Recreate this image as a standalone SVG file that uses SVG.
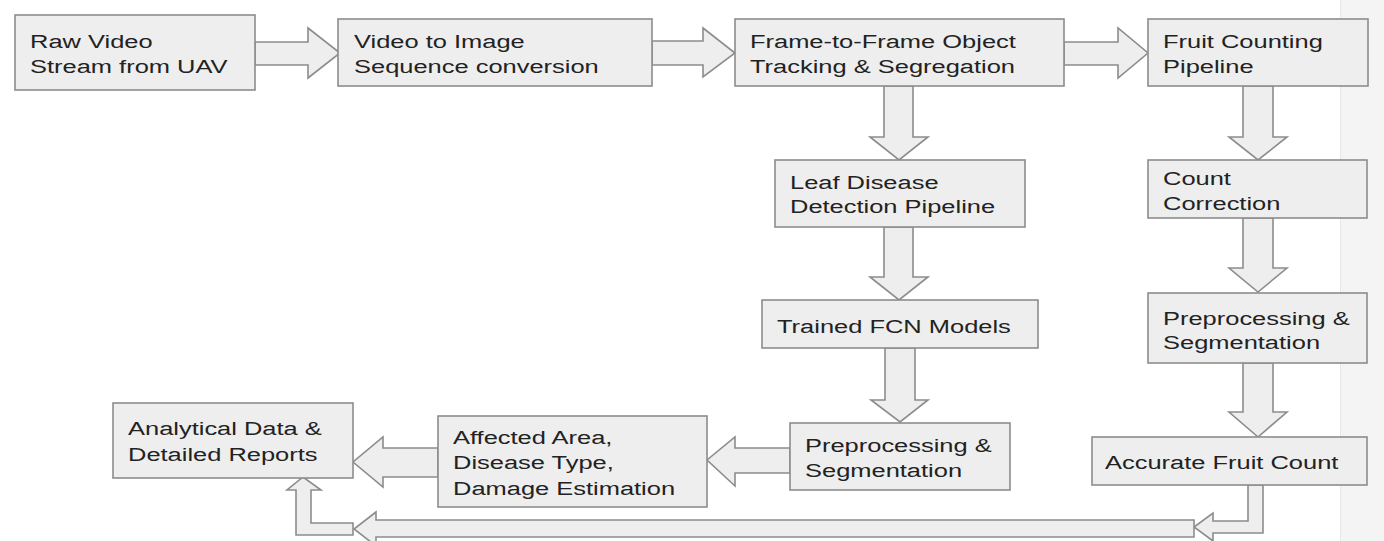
<svg xmlns="http://www.w3.org/2000/svg" width="1384" height="541" viewBox="0 0 1384 541">
<style>
.box{fill:#eeeeee;stroke:#8c8c8c;stroke-width:1.6}
.arr{fill:#eeeeee;stroke:#8c8c8c;stroke-width:1.6;stroke-linejoin:miter}
.t{font-family:"Liberation Sans",Arial,sans-serif;font-size:19px;fill:#222222}
</style>
<rect x="0" y="0" width="1384" height="541" fill="#ffffff"/>
<rect x="1340" y="0" width="44" height="541" fill="#f4f4f4"/>
<line x1="1340.5" y1="0" x2="1340.5" y2="541" stroke="#e6e6e6" stroke-width="1"/>
<g id="connectors">
<polygon class="arr" points="255,42 308,42 308,28 340,53 308,78 308,65 255,65"/>
<polygon class="arr" points="652,41 703,41 703,28 735,53 703,77 703,65 652,65"/>
<polygon class="arr" points="1064,42 1118,42 1118,28 1148,53 1118,78 1118,65 1064,65"/>
<polygon class="arr" points="884,86 913,86 913,137 928,137 899,160 870,137 884,137"/>
<polygon class="arr" points="884,227 913,227 913,277 928,277 899,300 870,277 884,277"/>
<polygon class="arr" points="885,348 915,348 915,400 928,400 900,422 871,400 885,400"/>
<polygon class="arr" points="1243,86 1273,86 1273,137 1287,137 1258,160 1229,137 1243,137"/>
<polygon class="arr" points="1243,218 1273,218 1273,268 1287,268 1258,292 1229,268 1243,268"/>
<polygon class="arr" points="1243,363 1273,363 1273,412 1287,412 1258,437 1229,412 1243,412"/>
<polygon class="arr" points="790,448 735,448 735,437 707,460 735,486 735,473 790,473"/>
<polygon class="arr" points="438,448 383,448 383,437 353,462 383,487 383,477 438,477"/>
<polygon class="arr" points="1248,485 1263,485 1263,533 1213,533 1213,541 1194,527 1213,513 1213,521 1248,521"/>
<polygon class="arr" points="1194,520 376,520 376,512 354,529 376,546 376,537 1194,537"/>
<polygon class="arr" points="353,523 311,523 311,490 321,490 303,477 287,490 296,490 296,535 353,535"/>
</g>
<g id="n1"><rect class="box" x="15" y="15" width="240" height="75"/>
<text class="t" transform="translate(30,48) scale(1.34,1)"><tspan x="0" y="0">Raw Video</tspan><tspan x="0" y="25">Stream from UAV</tspan></text></g>
<g id="n2"><rect class="box" x="338" y="19" width="314" height="67"/>
<text class="t" transform="translate(354,48) scale(1.34,1)"><tspan x="0" y="0">Video to Image</tspan><tspan x="0" y="25">Sequence conversion</tspan></text></g>
<g id="n3"><rect class="box" x="735" y="19" width="329" height="67"/>
<text class="t" transform="translate(750,48) scale(1.34,1)"><tspan x="0" y="0">Frame-to-Frame Object</tspan><tspan x="0" y="25">Tracking &amp; Segregation</tspan></text></g>
<g id="n4"><rect class="box" x="1148" y="19" width="220" height="67"/>
<text class="t" transform="translate(1163,48) scale(1.34,1)"><tspan x="0" y="0">Fruit Counting</tspan><tspan x="0" y="25">Pipeline</tspan></text></g>
<g id="n5"><rect class="box" x="775" y="160" width="250" height="67"/>
<text class="t" transform="translate(790,189) scale(1.34,1)"><tspan x="0" y="0">Leaf Disease</tspan><tspan x="0" y="24">Detection Pipeline</tspan></text></g>
<g id="n6"><rect class="box" x="762" y="300" width="276" height="48"/>
<text class="t" transform="translate(777,333) scale(1.34,1)">Trained FCN Models</text></g>
<g id="n7"><rect class="box" x="790" y="423" width="220" height="67"/>
<text class="t" transform="translate(805,452) scale(1.34,1)"><tspan x="0" y="0">Preprocessing &amp;</tspan><tspan x="0" y="25">Segmentation</tspan></text></g>
<g id="n8"><rect class="box" x="438" y="416" width="269" height="91"/>
<text class="t" transform="translate(453,444) scale(1.34,1)"><tspan x="0" y="0">Affected Area,</tspan><tspan x="0" y="25.5">Disease Type,</tspan><tspan x="0" y="51">Damage Estimation</tspan></text></g>
<g id="n9"><rect class="box" x="113" y="403" width="240" height="75"/>
<text class="t" transform="translate(128,435) scale(1.34,1)"><tspan x="0" y="0">Analytical Data &amp;</tspan><tspan x="0" y="26">Detailed Reports</tspan></text></g>
<g id="n10"><rect class="box" x="1148" y="160" width="219" height="58"/>
<text class="t" transform="translate(1163,185) scale(1.34,1)"><tspan x="0" y="0">Count</tspan><tspan x="0" y="25">Correction</tspan></text></g>
<g id="n11"><rect class="box" x="1148" y="293" width="219" height="70"/>
<text class="t" transform="translate(1163,325) scale(1.34,1)"><tspan x="0" y="0">Preprocessing &amp;</tspan><tspan x="0" y="24">Segmentation</tspan></text></g>
<g id="n12"><rect class="box" x="1092" y="437" width="275" height="48"/>
<text class="t" transform="translate(1105,469) scale(1.34,1)">Accurate Fruit Count</text></g>
</svg>
